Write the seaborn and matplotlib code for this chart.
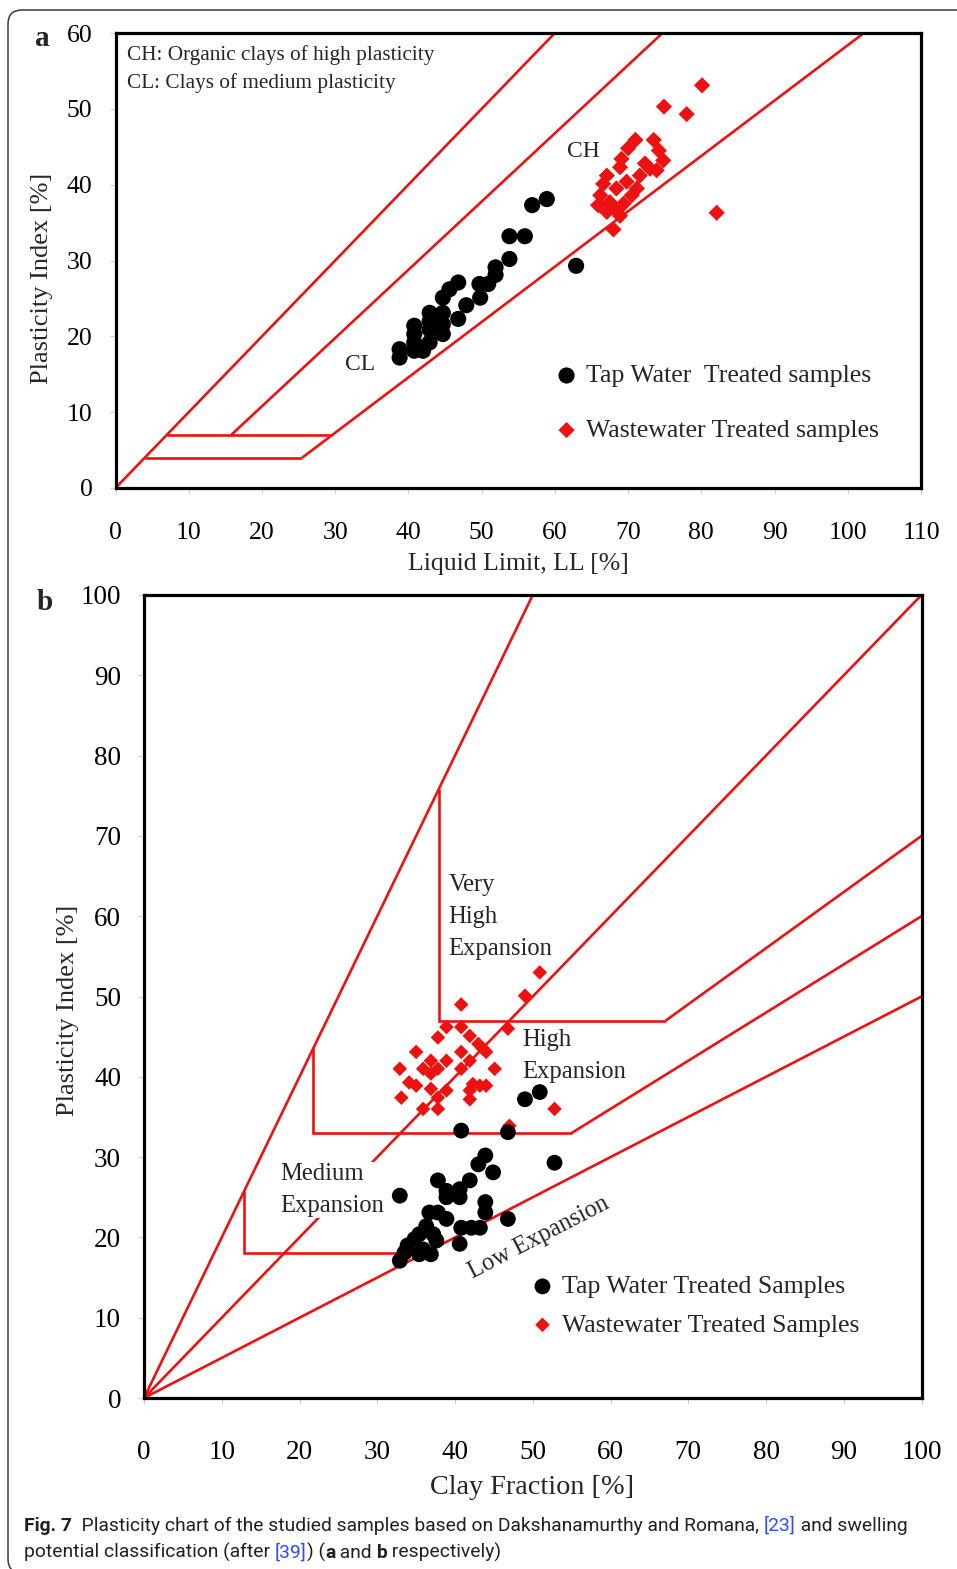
import matplotlib
matplotlib.use("Agg")
import matplotlib.pyplot as plt
from matplotlib import font_manager
from matplotlib.patches import FancyBboxPatch
import numpy as np
import pandas as pd
import seaborn as sns

# ---------------------------------------------------------------------------
# (a) Plasticity chart: liquid limit vs plasticity index
# ---------------------------------------------------------------------------
tap_a_ll = [58.9, 56.9, 55.9, 53.8, 53.8, 62.9, 51.9, 51.9, 50.9, 49.7, 49.8,
            46.8, 45.6, 44.7, 47.9, 46.8, 44.7, 42.9, 42.9, 44.7, 44.7, 42.9,
            40.8, 40.8, 40.8, 42.0, 42.9, 38.8, 38.8, 40.8]
tap_a_pi = [38.1, 37.3, 33.2, 33.2, 30.2, 29.3, 29.1, 28.1, 26.9, 26.9, 25.1,
            27.1, 26.2, 25.1, 24.1, 22.3, 23.1, 23.1, 22.0, 21.6, 20.3, 20.9,
            21.4, 20.3, 19.2, 18.1, 19.2, 18.3, 17.2, 18.1]

ww_a_ll = [80.1, 74.9, 78.0, 82.1, 68.0, 71.0, 73.5, 70.0, 74.2, 74.8, 69.1,
           68.9, 73.9, 73.0, 71.6, 67.1, 66.6, 69.8, 68.4, 71.2, 66.2, 67.5,
           69.4, 65.9, 70.5, 68.9, 67.1, 68.4, 72.3]
ww_a_pi = [53.1, 50.3, 49.3, 36.3, 34.1, 45.9, 45.9, 44.8, 44.5, 43.2, 43.4,
           42.3, 41.9, 42.1, 41.2, 41.2, 40.1, 40.4, 39.5, 39.5, 38.6, 37.7,
           37.5, 37.3, 38.6, 35.9, 36.4, 36.6, 42.8]

# boundary lines of the chart (liquid limit, plasticity index)
upper_ll, upper_pi = [0, 60], [0, 60]
u_line_ll, u_line_pi = [15.8, 74.7], [7, 60]
a_line_ll, a_line_pi = [25.5, 102.2], [4, 60]
band7_ll, band7_pi = [7, 29.6], [7, 7]
band4_ll, band4_pi = [4, 25.5], [4, 4]

a_xticks = list(range(0, 111, 10))
a_yticks = list(range(0, 61, 10))

# ---------------------------------------------------------------------------
# (b) Swelling potential: clay fraction vs plasticity index
# ---------------------------------------------------------------------------
tap_b_cf = [52.8, 43.9, 43.0, 44.9, 37.8, 41.9, 38.9, 40.6, 38.9, 40.6, 32.9,
            43.9, 43.9, 46.8, 36.7, 37.8, 38.9, 40.8, 42.1, 43.2, 36.3, 35.4,
            34.8, 37.2, 37.6, 33.9, 40.6, 35.9, 36.9, 35.4, 33.5, 32.9, 49.0,
            50.9, 40.8, 46.8]
tap_b_pi = [29.3, 30.2, 29.1, 28.1, 27.1, 27.1, 25.8, 26.0, 25.0, 25.0, 25.2,
            24.4, 23.1, 22.3, 23.1, 23.1, 22.3, 21.2, 21.2, 21.2, 21.4, 20.4,
            19.8, 20.4, 19.6, 19.0, 19.2, 18.5, 17.9, 17.9, 18.1, 17.1, 37.2,
            38.1, 33.3, 33.1]

ww_b_cf = [40.8, 49.0, 50.9, 38.9, 40.8, 37.8, 41.9, 43.0, 40.8, 43.6, 44.0,
           46.8, 35.0, 38.9, 36.9, 41.9, 32.9, 35.9, 37.8, 40.8, 45.1, 36.9,
           34.1, 35.0, 36.9, 38.9, 42.3, 43.2, 44.0, 33.1, 37.8, 41.9, 41.9,
           35.9, 37.8, 52.8, 47.0]
ww_b_pi = [49.0, 50.1, 53.0, 46.2, 46.2, 44.9, 45.1, 44.1, 43.1, 43.5, 43.1,
           46.0, 43.1, 42.0, 42.0, 42.0, 41.0, 41.0, 41.0, 41.0, 41.0, 40.4,
           39.3, 38.9, 38.5, 38.3, 39.1, 38.9, 38.9, 37.4, 37.4, 38.3, 37.2,
           36.0, 36.0, 36.0, 33.9]

# activity rays and class boundaries (clay fraction, plasticity index)
ray2_cf, ray2_pi = [0, 50], [0, 100]
ray1_cf, ray1_pi = [0, 100], [0, 100]
ray05_cf, ray05_pi = [0, 100], [0, 50]
ray06_cf, ray06_pi = [55, 100], [33, 60]
ray07_cf, ray07_pi = [67.1, 100], [47, 70]
very_high_cf, very_high_pi = [37.9, 37.9, 67.1], [75.8, 47, 47]
high_cf, high_pi = [21.8, 21.8, 55], [43.6, 33, 33]
medium_cf, medium_pi = [12.9, 12.9, 36], [25.8, 18, 18]

b_ticks = list(range(0, 101, 10))

# ---------------------------------------------------------------------------
sns.set_style("white")
serif = ["Liberation Serif", "DejaVu Serif"]
plt.rcParams["font.family"] = serif

installed = {f.name for f in font_manager.fontManager.ttflist}
cap_font = "Roboto" if "Roboto" in installed else "Liberation Sans"

W, H, DPI = 957, 1569, 100
fig = plt.figure(figsize=(W / DPI, H / DPI), dpi=DPI)
fig.patch.set_facecolor("white")

RED = "#ee1111"
LW = 1.9


def px_axes(left, right, top, bottom):
    return [left / W, 1 - bottom / H, (right - left) / W, (bottom - top) / H]


def style_axes(ax, fs, xpad, ypad):
    for s in ax.spines.values():
        s.set_color("black")
        s.set_linewidth(2.3)
        s.set_visible(True)
    ax.tick_params(axis="both", direction="out", length=4, width=0.8,
                   color="#cfcfcf", labelsize=fs, labelcolor="black",
                   bottom=True, left=True)
    ax.tick_params(axis="x", pad=xpad)
    ax.tick_params(axis="y", pad=ypad)
    ax.set_facecolor("white")


def seg(ax, xs, ys, **kw):
    ax.plot(xs, ys, color=RED, lw=LW, solid_capstyle="butt",
            solid_joinstyle="miter", zorder=2, **kw)


# ----------------------------- panel a -------------------------------------
ax_a = fig.add_axes(px_axes(115.5, 921, 33, 488))
for xs, ys in [(upper_ll, upper_pi), (u_line_ll, u_line_pi),
               (a_line_ll, a_line_pi), (band7_ll, band7_pi),
               (band4_ll, band4_pi)]:
    seg(ax_a, xs, ys)

sns.scatterplot(x=tap_a_ll, y=tap_a_pi, ax=ax_a, marker="o", s=135,
                color="black", edgecolor="none", linewidth=0, zorder=4,
                label="Tap Water  Treated samples")
sns.scatterplot(x=ww_a_ll, y=ww_a_pi, ax=ax_a, marker="D", s=68,
                color=RED, edgecolor="none", linewidth=0, zorder=3,
                label="Wastewater Treated samples")

ax_a.set_xlim(0, 110)
ax_a.set_ylim(0, 60)
ax_a.set_xticks(a_xticks)
ax_a.set_yticks(a_yticks)
style_axes(ax_a, 18.5, 20.5, 12.5)
ax_a.set_xlabel("")
ax_a.set_ylabel("")

ax_a.legend(loc="upper left", bbox_to_anchor=(0.544, 0.272), frameon=False,
            fontsize=18.5, handlelength=1.0, handletextpad=0.25,
            labelspacing=1.23, borderpad=0, borderaxespad=0,
            markerscale=1.0)

ax_a.text(1.6, 57.1, "CH: Organic clays of high plasticity", fontsize=15.3,
          ha="left", va="center")
ax_a.text(1.6, 53.4, "CL: Clays of medium plasticity", fontsize=15.3,
          ha="left", va="center")
ax_a.text(63.9, 44.4, "CH", fontsize=17, ha="center", va="center")
ax_a.text(33.4, 16.3, "CL", fontsize=17, ha="center", va="center")

fig.text(518.5 / W, 1 - 564 / H, "Liquid Limit, LL [%]", fontsize=18.5,
         ha="center", va="center")
fig.text(42 / W, 1 - 278 / H, "Plasticity Index [%]", fontsize=19,
         ha="center", va="center", rotation=90)
fig.text(42 / W, 1 - 39 / H, "a", fontsize=21, fontweight="bold",
         ha="center", va="center")

# ----------------------------- panel b -------------------------------------
ax_b = fig.add_axes(px_axes(144, 921.5, 595, 1398))
for xs, ys in [(ray2_cf, ray2_pi), (ray1_cf, ray1_pi), (ray05_cf, ray05_pi),
               (ray06_cf, ray06_pi), (ray07_cf, ray07_pi),
               (very_high_cf, very_high_pi), (high_cf, high_pi),
               (medium_cf, medium_pi)]:
    seg(ax_b, xs, ys)

sns.scatterplot(x=tap_b_cf, y=tap_b_pi, ax=ax_b, marker="o", s=130,
                color="black", edgecolor="none", linewidth=0, zorder=4,
                label="Tap Water Treated Samples")
sns.scatterplot(x=ww_b_cf, y=ww_b_pi, ax=ax_b, marker="D", s=55,
                color=RED, edgecolor="none", linewidth=0, zorder=3,
                label="Wastewater Treated Samples")

ax_b.set_xlim(0, 100)
ax_b.set_ylim(0, 100)
ax_b.set_xticks(b_ticks)
ax_b.set_yticks(b_ticks)
style_axes(ax_b, 19.5, 26.5, 12.5)
ax_b.set_xlabel("")
ax_b.set_ylabel("")

ax_b.legend(loc="upper left", bbox_to_anchor=(0.496, 0.153), frameon=False,
            fontsize=18.5, handlelength=1.0, handletextpad=0.25,
            labelspacing=0.6, borderpad=0, borderaxespad=0)

ax_b.text(39.2, 59.9, "Very\nHigh\nExpansion", fontsize=17.7, ha="left",
          va="center", linespacing=1.56)
ax_b.text(48.7, 42.6, "High\nExpansion", fontsize=17.7, ha="left",
          va="center", linespacing=1.56, zorder=5)
ax_b.text(17.5, 25.9, "Medium\nExpansion", fontsize=17.7, ha="left",
          va="center", linespacing=1.56, zorder=5,
          bbox=dict(boxstyle="square,pad=0.05", fc="white", ec="none"))
ax_b.text(50.8, 20.0, "Low Expansion", fontsize=17.7, ha="center",
          va="center", rotation=27.3, rotation_mode="anchor")

fig.text(532 / W, 1 - 1487 / H, "Clay Fraction [%]", fontsize=20.3,
         ha="center", va="center")
fig.text(68 / W, 1 - 1010 / H, "Plasticity Index [%]", fontsize=19,
         ha="center", va="center", rotation=90)
fig.text(45 / W, 1 - 603 / H, "b", fontsize=21, fontweight="bold",
         ha="center", va="center")

# ----------------------------- caption -------------------------------------
overlay = fig.add_axes([0, 0, 1, 1], facecolor="none")
overlay.set_axis_off()
overlay.set_xlim(0, W)
overlay.set_ylim(H, 0)

CAP = 13.85
INK = "#231f20"
BLUE = "#2a4bff"


def caption_line(x, y, parts):
    prev = overlay.text(x, y, parts[0][0], fontsize=CAP, family=cap_font,
                        color=parts[0][1], fontweight=parts[0][2],
                        ha="left", va="bottom")
    for txt, col, wt in parts[1:]:
        prev = overlay.annotate(txt, xy=(1, 0), xycoords=prev,
                                fontsize=CAP, family=cap_font, color=col,
                                fontweight=wt, ha="left", va="bottom")


caption_line(24, 1535, [
    ("Fig. 7", INK, "bold"),
    ("  Plasticity chart of the studied samples based on Dakshanamurthy and Romana, ", INK, "normal"),
    ("[23]", BLUE, "normal"),
    (" and swelling", INK, "normal"),
])
caption_line(24, 1562, [
    ("potential classification (after ", INK, "normal"),
    ("[39]", BLUE, "normal"),
    (") (", INK, "normal"),
    ("a", INK, "bold"),
    (" and ", INK, "normal"),
    ("b", INK, "bold"),
    (" respectively)", INK, "normal"),
])

# rounded page frame
frame = FancyBboxPatch((8, -4), 1100, H - 10 + 4,
                       boxstyle="round,pad=0,rounding_size=14",
                       transform=None, fill=False, edgecolor="#3a3a3a",
                       lw=1.1)
fig.add_artist(frame)

fig.savefig("out.png", dpi=DPI, facecolor="white")
